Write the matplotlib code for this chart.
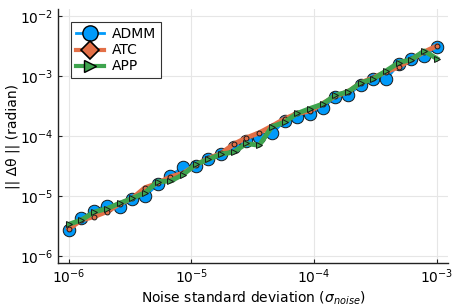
import numpy as np
import matplotlib
matplotlib.use("Agg")
import matplotlib.pyplot as plt
from matplotlib.lines import Line2D
from matplotlib.ticker import LogLocator, NullLocator, LogFormatterMathtext

# Noise levels: 30 log-spaced values from 1e-6 to 1e-3
sigma_noise = np.logspace(-6, -3, 30)

# Values (pixel rows at 3x zoom converted to log10)
admm_px = [690, 655, 633, 617, 622, 597, 588, 553, 527, 502, 497, 476, 462, 440, 422,
           412, 400, 362, 351, 342, 322, 290, 285, 253, 235, 237, 190, 176, 168, 139]
atc_px = [687, 660, 650, 635, 612, 595, 563, 550, 530, 520, 495, 475, 460, 432, 413,
          398, 378, 356, 340, 333, 310, 288, 275, 248, 232, 215, 200, 177, 155, 137]
app_px = [673, 660, 636, 626, 610, 595, 578, 545, 543, 524, 493, 478, 462, 456, 430,
          436, 380, 366, 340, 325, 312, 285, 275, 248, 236, 212, 187, 178, 152, 175]

admm = [10 ** (-2 - (p - 48) / 180.0) for p in admm_px]
atc = [10 ** (-2 - (p - 48) / 180.0) for p in atc_px]
app = [10 ** (-2 - (p - 48) / 180.0) for p in app_px]

labels = ["ADMM", "ATC", "APP"]
c_blue, c_orange, c_green = "#009AFA", "#E36F47", "#3EA44E"

fig = plt.figure(figsize=(4.57, 3.05), dpi=100)
ax = fig.add_axes([0.128, 0.138, 0.852, 0.832])

ax.plot(sigma_noise, admm, color=c_blue, lw=2.2, marker="o", ms=9,
        mfc=c_blue, mec="#1a1a1a", mew=0.7, zorder=3)
ax.plot(sigma_noise, atc, color=c_orange, lw=3.5, marker="o", ms=3.5,
        mfc=c_orange, mec="#1a1a1a", mew=0.7, zorder=4)
ax.plot(sigma_noise, app, color=c_green, lw=3.5, marker=">", ms=5,
        mfc=c_green, mec="#1a1a1a", mew=0.7, zorder=5)

ax.set_xscale("log")
ax.set_yscale("log")
ax.set_xlim(10 ** -6.084, 10 ** -2.91)
ax.set_ylim(10 ** -6.117, 10 ** -1.88)

ax.xaxis.set_major_locator(LogLocator(base=10, numticks=10))
ax.yaxis.set_major_locator(LogLocator(base=10, numticks=10))
ax.xaxis.set_minor_locator(NullLocator())
ax.yaxis.set_minor_locator(NullLocator())
ax.xaxis.set_major_formatter(LogFormatterMathtext())
ax.yaxis.set_major_formatter(LogFormatterMathtext())

ax.grid(True, color="#e6e6e6", lw=0.8)
ax.set_axisbelow(True)
for s in ["top", "right"]:
    ax.spines[s].set_visible(False)
for s in ["left", "bottom"]:
    ax.spines[s].set_color("#222222")
    ax.spines[s].set_linewidth(1.0)
ax.tick_params(direction="in", length=3, width=0.8, labelsize=10, colors="#222222",
               labelcolor="black")

ax.set_xlabel(r"Noise standard deviation ($\sigma_{noise}$)", fontsize=10, labelpad=2)
ax.set_ylabel("|| Δθ || (radian)", fontsize=10, labelpad=0)

handles = [
    Line2D([], [], color=c_blue, lw=2, marker="o", ms=11, mfc=c_blue, mec="black", mew=1),
    Line2D([], [], color=c_orange, lw=3, marker="D", ms=9, mfc=c_orange, mec="black", mew=1.2),
    Line2D([], [], color=c_green, lw=3, marker=">", ms=9, mfc=c_green, mec="black", mew=1),
]
leg = ax.legend(handles, labels, loc="upper left", bbox_to_anchor=(0.015, 0.975),
                fontsize=10, frameon=True, fancybox=False, handlelength=2.0,
                handletextpad=0.6, borderpad=0.35, labelspacing=0.15,
                borderaxespad=0.5)
leg.get_frame().set_edgecolor("black")
leg.get_frame().set_linewidth(0.8)

fig.savefig("out.png", dpi=100)
